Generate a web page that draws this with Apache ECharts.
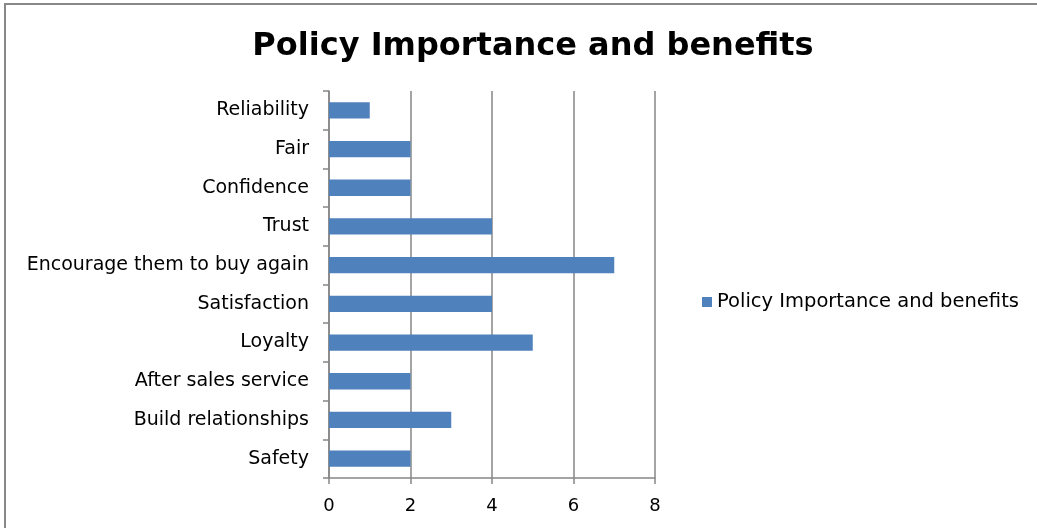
<!DOCTYPE html>
<html><head><meta charset="utf-8">
<script src="https://cdn.jsdelivr.net/npm/echarts@6/dist/echarts.min.js"></script>
<style>html,body{margin:0;padding:0;background:#fff;}#c{width:1037px;height:528px;}</style>
</head><body><div id="c"></div>
<script>
const categories = ["Safety","Build relationships","After sales service","Loyalty","Satisfaction","Encourage them to buy again","Trust","Confidence","Fair","Reliability"];
const values = [2,3,2,5,4,7,4,2,2,1];
const seriesName = "Policy Importance and benefits";
const titleText = "Policy Importance and benefits";
const labelFont = "DejaVu Sans";

const chart = echarts.init(document.getElementById('c'));
chart.setOption({
  animation:false,
  backgroundColor:'#fff',
  graphic:[{type:'rect',shape:{x:5,y:4,width:1100,height:600},style:{fill:'none',stroke:'#888',lineWidth:2},silent:true}],
  title:{text:titleText,left:528,top:26,textAlign:'center',textStyle:{fontFamily:"DejaVu Sans",fontWeight:'bold',fontSize:32,color:'#000'}},
  legend:{data:[seriesName],left:697,top:287,icon:'rect',itemWidth:10,itemHeight:10,itemGap:12,
    textStyle:{fontFamily:labelFont,fontSize:19.5,color:'#000'}},
  grid:{left:329,right:382,top:91,bottom:50,containLabel:false},
  xAxis:{type:'value',min:0,max:8,interval:2,
    axisLine:{show:true,lineStyle:{color:'#868686',width:1.5}},
    axisTick:{show:true,length:6,lineStyle:{color:'#868686',width:1.5}},
    splitLine:{show:true,lineStyle:{color:'#868686',width:1.5}},
    axisLabel:{fontFamily:labelFont,fontSize:18,color:'#000',margin:19}},
  yAxis:{type:'category',data:categories,
    axisLine:{show:true,lineStyle:{color:'#868686',width:1.5}},
    axisTick:{show:true,length:6,lineStyle:{color:'#868686',width:1.5}},
    axisLabel:{fontFamily:labelFont,fontSize:19,color:'#000',margin:20,padding:[3,0,0,0]}},
  series:[{name:seriesName,type:'bar',data:values,barWidth:'42%',itemStyle:{color:'#4F81BD'}}]
});
</script></body></html>
